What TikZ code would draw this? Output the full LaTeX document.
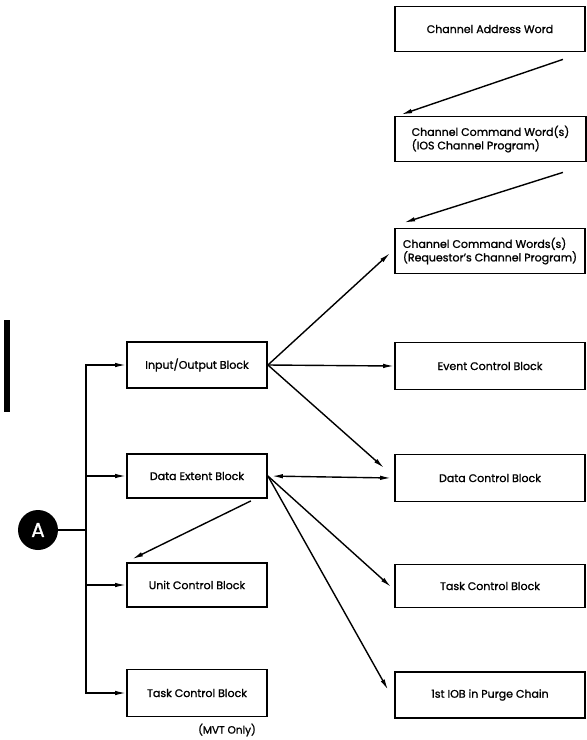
\documentclass[tikz,border=0pt]{standalone}
\usepackage{fontspec}
\setmainfont{Poppins}[FakeBold=1.2]
\usetikzlibrary{arrows.meta}

\begin{document}
\begin{tikzpicture}[
    x=1pt, y=-1pt,
    block/.style={draw, line width=1.8pt, minimum width=190pt, minimum height=45pt, inner sep=2pt, font=\fontsize{11}{13.5}\selectfont},
    leftblock/.style={block, minimum width=140pt},
    link/.style={line width=1.4pt, -{Latex[length=11pt,width=4.5pt]}},
    every node/.style={text=black}
]
\useasboundingbox (0,0) rectangle (587,740);

% === Channel program chain (right, top) ===
\node[block] (caw) at (490,29) {Channel Address Word};
\node[block, minimum width=191pt, align=left] (ccwios) at (490.5,139) {Channel Command Word(s)\\(IOS Channel Program)};
\node[block, align=left] (ccwreq) at (490,251) {Channel Command Words(s)\\(Requestor's Channel Program)};

% === Right column ===
\node[block, minimum height=47pt] (ecb) at (490,366) {Event Control Block};
\node[block, minimum height=47pt] (dcb) at (490,478) {Data Control Block};
\node[block, minimum height=43pt] (tcbr) at (490,586) {Task Control Block};
\node[block, minimum height=46pt] (purge) at (490,695) {1st IOB in Purge Chain};

% === Left column ===
\node[leftblock, minimum height=46pt] (iob) at (197,365) {Input/Output Block};
\node[leftblock, minimum height=44pt] (deb) at (197,476) {Data Extent Block};
\node[leftblock, minimum height=44pt] (ucb) at (197,585) {Unit Control Block};
\node[leftblock, minimum height=47pt] (tcbl) at (197,693) {Task Control Block};
\node[font=\fontsize{10.5}{12}\selectfont] (mvt) at (227,730) {(MVT Only)};

% === Entry point A ===
\node[circle, fill=black, minimum size=40pt, inner sep=0pt, text=white, font=\fontsize{20}{20}\selectfont] (A) at (38,530) {A};
\coordinate (trunk) at (86,530);
\draw[line width=1.4pt] (A) -- (trunk);
\draw[link] (trunk) |- (iob);
\draw[link] (trunk) |- (deb);
\draw[link] (trunk) |- (ucb);
\draw[link] (trunk) |- (tcbl);

% === Pointers ===
\draw[link] ([xshift=-23pt,yshift=-7pt]caw.south east) -- ([xshift=7pt,yshift=1pt]ccwios.north west);
\draw[link] ([xshift=-24pt,yshift=-10pt]ccwios.south east) -- ([xshift=10pt,yshift=5pt]ccwreq.north west);

\draw[link] (iob.east) -- ([xshift=-4pt,yshift=-2pt]ccwreq.west);
\draw[link] (iob.east) -- (ecb.west);
\draw[link] (iob.east) -- ([xshift=-10pt,yshift=10pt]dcb.west);

\draw[link, {Latex[length=11pt,width=4.5pt]}-{Latex[length=11pt,width=4.5pt]}, shorten <=4pt] (deb.east) -- ([xshift=-3pt]dcb.west);
\draw[link] (deb.east) -- ([xshift=-3pt,yshift=-1pt]tcbr.west);
\draw[link] (deb.east) -- ([xshift=-6pt,yshift=5pt]purge.west);
\draw[link] ([xshift=-17pt,yshift=-2pt]deb.south east) -- ([xshift=6pt,yshift=3pt]ucb.north west);

% revision bar
\fill (4,320) rectangle (10,412);

\end{tikzpicture}
\end{document}
